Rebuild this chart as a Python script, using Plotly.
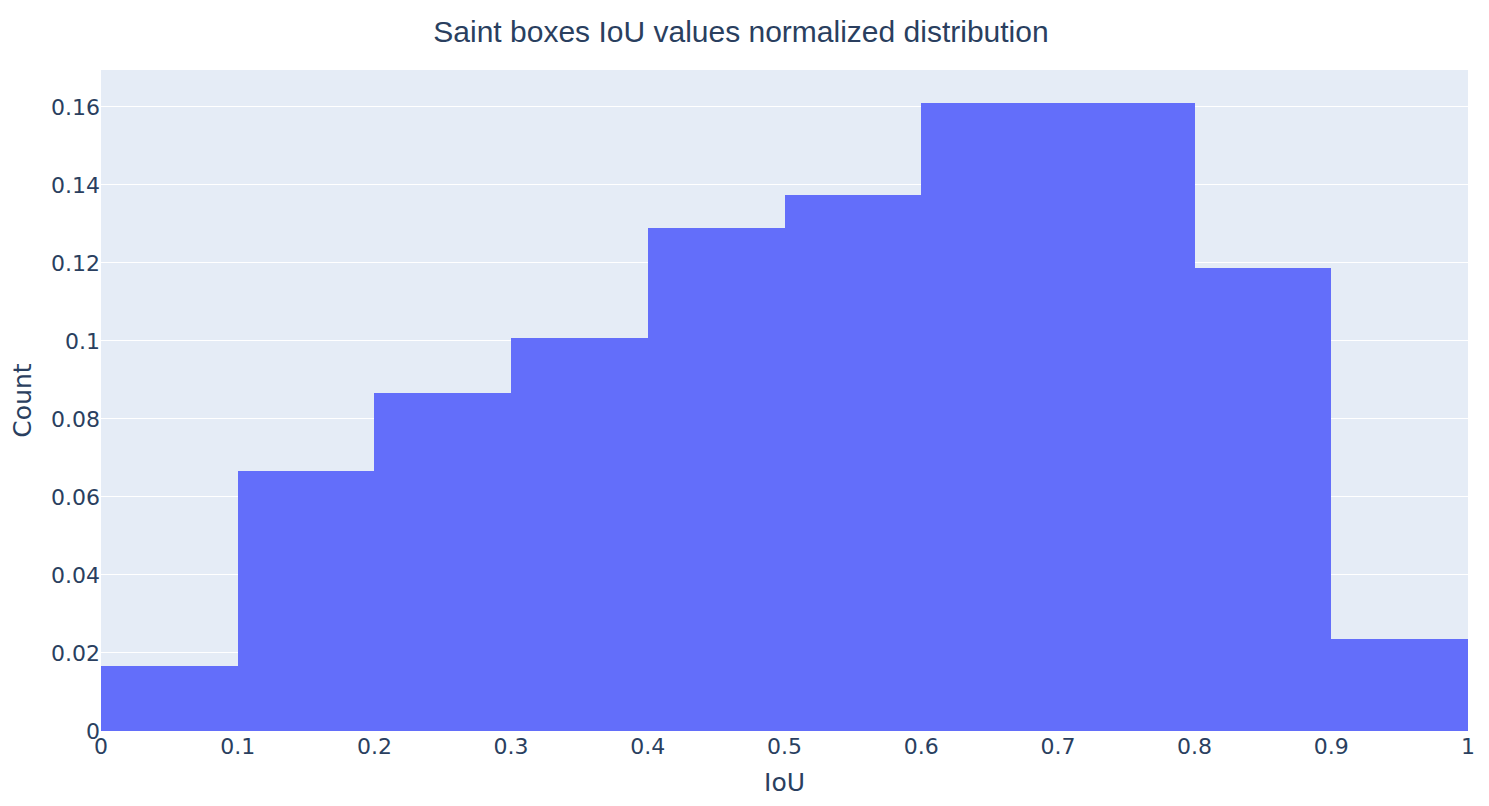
import plotly.graph_objects as go

bin_edges = [0.0, 0.1, 0.2, 0.3, 0.4, 0.5, 0.6, 0.7, 0.8, 0.9, 1.0]
probabilities = [0.0167, 0.0667, 0.0867, 0.1008, 0.1290, 0.1374, 0.1610, 0.1610, 0.1187, 0.0236]

centers = [(a + b) / 2 for a, b in zip(bin_edges[:-1], bin_edges[1:])]
widths = [b - a for a, b in zip(bin_edges[:-1], bin_edges[1:])]

fig = go.Figure(go.Bar(x=centers, y=probabilities, width=widths,
                       marker=dict(color="#636efa", line=dict(width=0))))

H = 798
W = 1481
fig.update_layout(
    template="plotly",
    width=W, height=H,
    margin=dict(l=93, r=21, t=62, b=75),
    title=dict(text="Saint boxes IoU values normalized distribution",
               x=(741 - 8) / W, xanchor="center", yref="container", y=1 - 23/H, yanchor="middle",
               font=dict(size=30, family="Liberation Sans, Arial, sans-serif")),
    font=dict(size=22, family="DejaVu Sans, Verdana, sans-serif"),
    bargap=0,
    showlegend=False,
    xaxis=dict(title=dict(text="IoU", font=dict(size=25)), range=[0, 1], dtick=0.1, tick0=0),
    yaxis=dict(title=dict(text="Count", font=dict(size=25)), dtick=0.02),
)

fig.write_html("out.html")
